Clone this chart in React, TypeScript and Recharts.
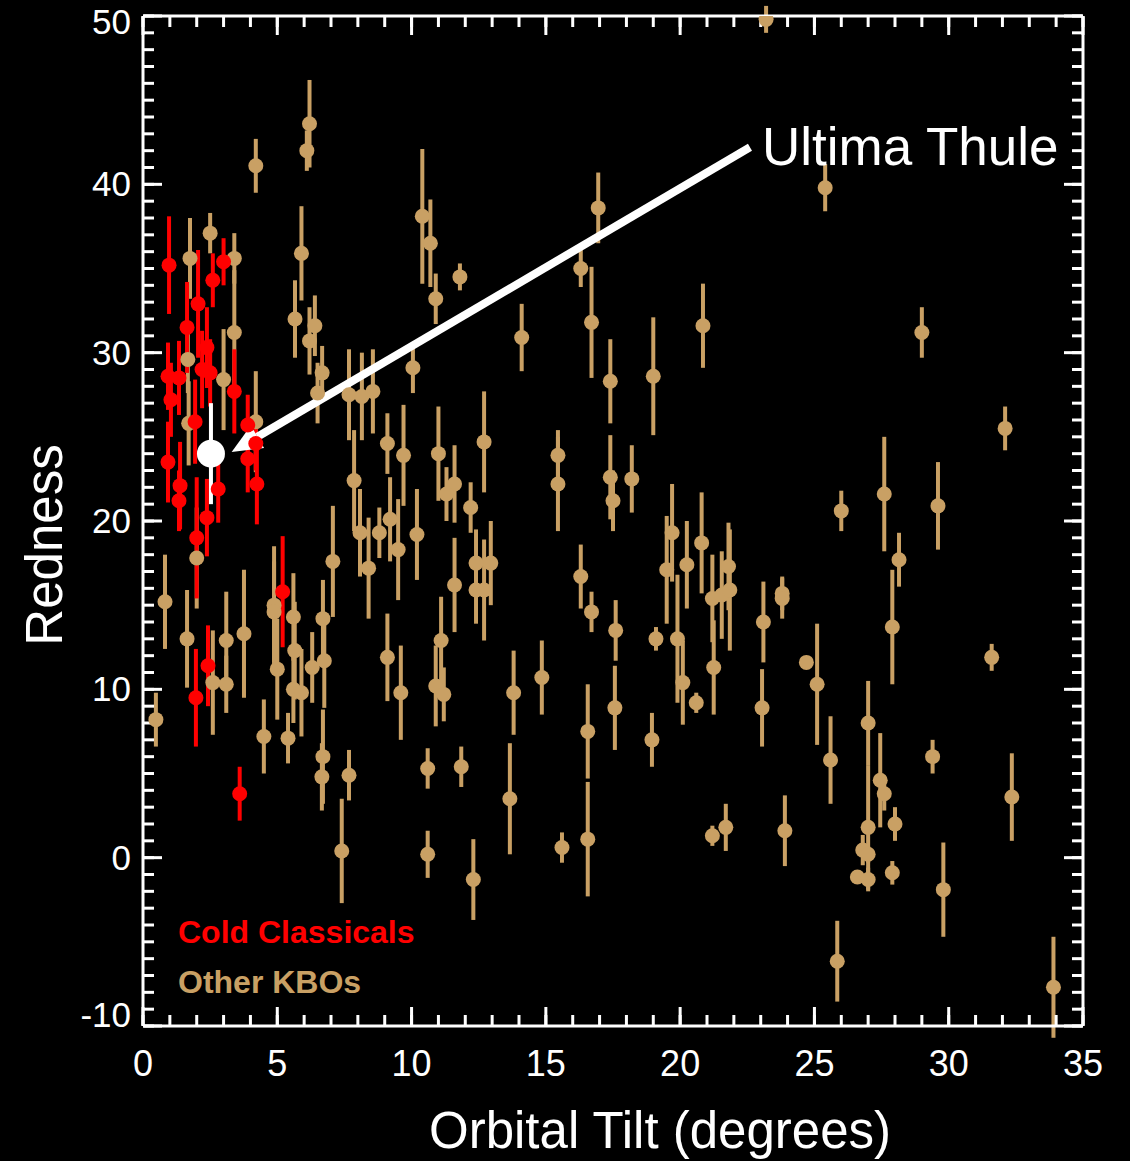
import React from 'react';
import { ScatterChart, Scatter, XAxis, YAxis, ErrorBar, ReferenceLine, Customized } from 'recharts';

// Cold Classicals (red)
const coldTilt = [0.97, 3.0, 2.6, 2.05, 1.64, 2.38, 0.93, 1.34, 2.2, 2.5, 1.04, 3.4, 1.94, 3.9, 4.2, 3.9, 0.93, 1.38, 4.24, 1.34, 2.8, 2.38, 2.0, 5.2, 2.42, 1.97, 3.6];
const coldRedness = [35.2, 35.4, 34.3, 32.9, 31.5, 30.3, 28.6, 28.5, 29.0, 28.8, 27.2, 27.7, 25.9, 25.7, 24.6, 23.7, 23.5, 22.1, 22.2, 21.2, 21.9, 20.2, 19.0, 15.8, 11.4, 9.5, 3.8];
const coldErr = [2.9, 1.4, 1.6, 3.2, 2.7, 2.4, 2.0, 2.2, 2.3, 2.0, 2.2, 2.5, 2.5, 1.8, 1.6, 2.0, 2.4, 2.6, 2.4, 1.8, 2.0, 2.3, 3.6, 3.3, 2.4, 2.9, 1.6];

// Other KBOs (tan)
const otherTilt = [
  0.48, 0.82, 1.64, 2.0, 1.75, 2.5, 3.4, 3.4, 1.67, 3.0,
  1.7, 4.2, 3.1, 3.76, 2.6, 3.1, 4.5, 4.88, 4.88, 5.6,
  5.65, 5.0, 5.6, 5.9, 5.4, 6.7, 6.3, 6.75, 7.07, 6.7,
  6.66, 7.67, 7.4, 8.08, 8.8, 9.2, 8.4, 9.5, 10.2, 9.1,
  9.6, 11.1, 10.9, 11.2, 11.6, 10.6, 10.6, 11.85, 4.2, 6.2,
  6.1, 5.9, 5.66, 6.4, 6.2, 6.67, 6.5, 7.67, 8.15, 8.56,
  10.4, 10.7, 10.9, 11.8, 10.05, 14.1, 9.1, 9.7, 12.7, 7.86,
  11.0, 11.6, 11.3, 23.2, 16.95, 16.3, 16.7, 20.85, 17.4, 19.0,
  12.2, 15.45, 15.45, 17.4, 17.5, 18.2, 25.4, 29.0, 32.1, 26.0,
  27.6, 29.6, 12.4, 12.95, 12.4, 12.7, 12.3, 13.8, 13.66, 14.85,
  15.6, 16.3, 16.7, 16.56, 16.56, 17.6, 17.57, 18.95, 19.1, 19.5,
  19.7, 19.9, 20.1, 20.25, 20.8, 20.6, 21.25, 21.2, 21.55, 21.85,
  21.8, 21.2, 21.7, 23.1, 23.05, 23.8, 23.8, 23.9, 28.15, 27.9,
  31.6, 24.7, 25.1, 27.0, 25.6, 29.4, 27.45, 27.6, 32.35, 27.0,
  28.0, 26.8, 27.0, 26.6, 27.0, 27.9, 29.8, 25.85, 33.9,
];
const otherRedness = [
  8.2, 15.2, 13.0, 17.8, 35.6, 37.1, 35.6, 31.2, 29.6, 28.4,
  25.8, 25.9, 12.9, 13.3, 10.4, 10.3, 7.2, 15.0, 14.6, 14.3,
  12.3, 11.2, 10.0, 9.8, 7.1, 14.2, 11.3, 11.7, 17.6, 6.0,
  4.8, 4.9, 0.4, 19.3, 19.3, 20.1, 17.2, 18.3, 19.2, 11.9,
  9.8, 12.9, 10.2, 9.7, 16.2, 5.3, 0.2, 5.4, 41.1, 43.6,
  42.0, 35.9, 32.0, 31.6, 30.7, 28.8, 27.6, 27.5, 27.4, 27.7,
  38.1, 36.5, 33.2, 34.5, 29.1, 30.9, 24.6, 23.9, 24.7, 22.4,
  24.0, 22.2, 21.6, 49.8, 38.6, 35.0, 31.8, 31.6, 28.3, 28.6,
  20.8, 23.9, 22.2, 22.6, 21.2, 22.5, 39.8, 31.2, 25.5, 20.6,
  21.6, 20.9, 17.5, 17.5, 15.9, 15.9, -1.3, 9.8, 3.5, 10.7,
  0.6, 16.7, 14.6, 7.5, 1.1, 13.5, 8.9, 7.0, 13.0, 17.1,
  19.3, 13.0, 10.4, 17.4, 18.7, 9.2, 11.3, 15.4, 15.6, 15.9,
  17.3, 1.3, 1.8, 14.0, 8.9, 15.7, 15.4, 1.6, 17.7, 13.7,
  11.9, 11.6, 10.3, 8.0, 5.8, 6.0, 4.6, 3.8, 3.6, 1.8,
  2.0, 0.45, 0.2, -1.15, -1.3, -0.9, -1.9, -6.15, -7.7,
];
const otherErr = [
  1.6, 2.8, 2.9, 3.0, 2.4, 1.2, 1.5, 3.7, 2.0, 3.0,
  2.5, 3.0, 2.9, 3.8, 3.1, 1.7, 2.2, 3.5, 3.0, 2.6,
  2.9, 3.0, 2.0, 2.6, 1.5, 2.3, 2.1, 2.8, 3.3, 2.8,
  2.0, 1.5, 3.1, 2.6, 1.5, 2.5, 3.0, 3.0, 2.7, 2.6,
  2.8, 2.6, 2.4, 1.6, 2.8, 1.2, 1.4, 1.2, 1.6, 2.6,
  1.2, 2.8, 2.3, 1.8, 2.0, 1.6, 1.8, 2.7, 2.6, 2.5,
  4.0, 2.6, 1.5, 0.8, 1.5, 2.0, 1.8, 3.0, 3.0, 3.0,
  2.8, 2.3, 1.6, 0.8, 2.1, 1.1, 3.3, 2.5, 2.5, 3.5,
  1.5, 1.5, 2.8, 2.5, 1.8, 2.0, 1.4, 1.5, 1.3, 1.2,
  3.4, 2.6, 2.0, 2.5, 2.0, 3.0, 2.4, 2.5, 3.3, 2.2,
  0.9, 1.9, 1.2, 2.8, 3.4, 1.8, 2.5, 1.6, 0.7, 3.2,
  2.9, 3.8, 2.5, 2.6, 3.0, 0.6, 2.8, 2.6, 2.6, 3.6,
  2.6, 0.6, 1.4, 2.4, 2.3, 1.0, 1.2, 2.1, 1.6, 3.4,
  0.8, 0, 3.6, 2.5, 2.6, 1.0, 2.8, 1.0, 2.6, 3.7,
  1.0, 0.9, 0.5, 0, 0.7, 0.7, 2.8, 2.4, 3.0,
];

// Ultima Thule
const thuleTilt = [2.53];
const thuleRedness = [24.0];
const thuleErr = [3.0];

// axis ticks
const xMajorTicks = [0, 5, 10, 15, 20, 25, 30, 35];
const xMinorTicks = Array.from({ length: 36 }, (_, i) => i);
const yMajorTicks = [-10, 0, 10, 20, 30, 40, 50];
const yMinorTicks = Array.from({ length: 61 }, (_, i) => i - 10);

// arrow: from label to Ultima Thule
const arrowFrom = { x: 22.6, y: 42.2 };
const arrowTo = { x: 3.3, y: 24.1 };

const TAN = '#c9a064';
const RED = '#ff0000';
const FONT = '"Liberation Sans", Arial, Helvetica, sans-serif';

const build = (tilt: number[], red: number[], err: number[]) =>
  tilt.map((t, i) => ({ tilt: t, redness: red[i], err: err[i] }));

const coldData = build(coldTilt, coldRedness, coldErr);
const otherData = build(otherTilt, otherRedness, otherErr);
const thuleData = build(thuleTilt, thuleRedness, thuleErr);

const dot = (fill: string, r: number) => (props: any) =>
  <circle cx={props.cx} cy={props.cy} r={r} fill={fill} />;

const NoLabel = () => <g />;

// y labels at the ends sit a bit inside the frame, as in the original
const YTick = (props: any) => {
  const { x, y, payload } = props;
  const v = payload.value;
  const shift = v === 50 ? 6 : v === -10 ? -11 : 0;
  return (
    <text x={x} y={y + shift} dy={12} textAnchor="end" fill="#fff" fontSize={35} fontFamily={FONT}>
      {v}
    </text>
  );
};

const ArrowShape = (props: any) => {
  const { x1, y1, x2, y2 } = props;
  const dx = x2 - x1;
  const dy = y2 - y1;
  const len = Math.hypot(dx, dy);
  const ux = dx / len;
  const uy = dy / len;
  const headLen = 30;
  const headW = 13;
  const bx = x2 - ux * headLen;
  const by = y2 - uy * headLen;
  const pts = `${x2},${y2} ${bx - uy * headW},${by + ux * headW} ${bx + uy * headW},${by - ux * headW}`;
  return (
    <g>
      <line x1={x1} y1={y1} x2={bx} y2={by} stroke="#fff" strokeWidth={8} />
      <polygon points={pts} fill="#fff" />
      <text x={x1 + 12} y={y1 + 18} fill="#fff" fontSize={53} fontFamily={FONT}>Ultima Thule</text>
    </g>
  );
};

const Titles = () => (
  <g fontFamily={FONT}>
    <text x={660} y={1148} textAnchor="middle" fill="#fff" fontSize={51}>Orbital Tilt (degrees)</text>
    <text x={62} y={545} textAnchor="middle" fill="#fff" fontSize={51} transform="rotate(-90 62 545)">Redness</text>
    <text x={178} y={943} fill={RED} fontSize={32} fontWeight="bold">Cold Classicals</text>
    <text x={178} y={993} fill={TAN} fontSize={32} fontWeight="bold">Other KBOs</text>
  </g>
);

const frame = { stroke: '#fff', strokeWidth: 3 };
const tickLn = { stroke: '#fff', strokeWidth: 3 };

export default function App() {
  return (
    <div style={{ width: 1130, height: 1161, background: '#000' }}>
      <style>{'body{margin:0;background:#000;}'}</style>
      <ScatterChart width={1130} height={1161} margin={{ top: 16, right: 47, left: 0, bottom: 0 }}>
        {/* label axes */}
        <XAxis
          type="number" dataKey="tilt" domain={[0, 35]} ticks={xMajorTicks} interval={0}
          allowDataOverflow height={135} tickLine={false} axisLine={false} tickSize={0} tickMargin={24}
          tick={{ fill: '#fff', fontSize: 36, fontFamily: FONT }}
        />
        <YAxis
          type="number" dataKey="redness" domain={[-10, 50]} ticks={yMajorTicks} interval={0}
          allowDataOverflow width={143} tickLine={false} axisLine={false} tickSize={0} tickMargin={12}
          tick={<YTick />}
        />
        {/* inward tick marks on all four sides (first mirror axis per side is 1px so the next one is not pushed inward) */}
        <XAxis xAxisId="bMaj" type="number" dataKey="tilt" domain={[0, 35]} allowDataOverflow ticks={xMajorTicks} interval={0} mirror height={1} tick={NoLabel} tickSize={19} tickLine={tickLn} axisLine={frame} />
        <XAxis xAxisId="bMin" type="number" dataKey="tilt" domain={[0, 35]} allowDataOverflow ticks={xMinorTicks} interval={0} mirror height={1} tick={NoLabel} tickSize={10} tickLine={tickLn} axisLine={false} />
        <XAxis xAxisId="tMaj" orientation="top" type="number" dataKey="tilt" domain={[0, 35]} allowDataOverflow ticks={xMajorTicks} interval={0} mirror height={1} tick={NoLabel} tickSize={19} tickLine={tickLn} axisLine={frame} />
        <XAxis xAxisId="tMin" orientation="top" type="number" dataKey="tilt" domain={[0, 35]} allowDataOverflow ticks={xMinorTicks} interval={0} mirror height={1} tick={NoLabel} tickSize={10} tickLine={tickLn} axisLine={false} />
        <YAxis yAxisId="lMaj" type="number" dataKey="redness" domain={[-10, 50]} allowDataOverflow ticks={yMajorTicks} interval={0} mirror width={1} tick={NoLabel} tickSize={19} tickLine={tickLn} axisLine={frame} />
        <YAxis yAxisId="lMin" type="number" dataKey="redness" domain={[-10, 50]} allowDataOverflow ticks={yMinorTicks} interval={0} mirror width={1} tick={NoLabel} tickSize={10} tickLine={tickLn} axisLine={false} />
        <YAxis yAxisId="rMaj" orientation="right" type="number" dataKey="redness" domain={[-10, 50]} allowDataOverflow ticks={yMajorTicks} interval={0} mirror width={1} tick={NoLabel} tickSize={19} tickLine={tickLn} axisLine={frame} />
        <YAxis yAxisId="rMin" orientation="right" type="number" dataKey="redness" domain={[-10, 50]} allowDataOverflow ticks={yMinorTicks} interval={0} mirror width={1} tick={NoLabel} tickSize={10} tickLine={tickLn} axisLine={false} />

        {/* invisible series so the tick-only axes get a scale */}
        <Scatter data={thuleData} xAxisId="bMaj" yAxisId="lMaj" shape={NoLabel} isAnimationActive={false} />
        <Scatter data={thuleData} xAxisId="bMin" yAxisId="lMin" shape={NoLabel} isAnimationActive={false} />
        <Scatter data={thuleData} xAxisId="tMaj" yAxisId="rMaj" shape={NoLabel} isAnimationActive={false} />
        <Scatter data={thuleData} xAxisId="tMin" yAxisId="rMin" shape={NoLabel} isAnimationActive={false} />

        <Scatter data={otherData} shape={dot(TAN, 7.5)} isAnimationActive={false}>
          <ErrorBar dataKey="err" direction="y" width={0} stroke={TAN} strokeWidth={4} isAnimationActive={false} />
        </Scatter>
        <Scatter data={coldData} shape={dot(RED, 7.5)} isAnimationActive={false}>
          <ErrorBar dataKey="err" direction="y" width={0} stroke={RED} strokeWidth={4} isAnimationActive={false} />
        </Scatter>
        <Scatter data={thuleData} shape={dot('#fff', 14)} isAnimationActive={false}>
          <ErrorBar dataKey="err" direction="y" width={0} stroke="#fff" strokeWidth={4} isAnimationActive={false} />
        </Scatter>

        <ReferenceLine segment={[arrowFrom, arrowTo]} ifOverflow="visible" shape={ArrowShape} />
        <Customized component={Titles} />
      </ScatterChart>
    </div>
  );
}
